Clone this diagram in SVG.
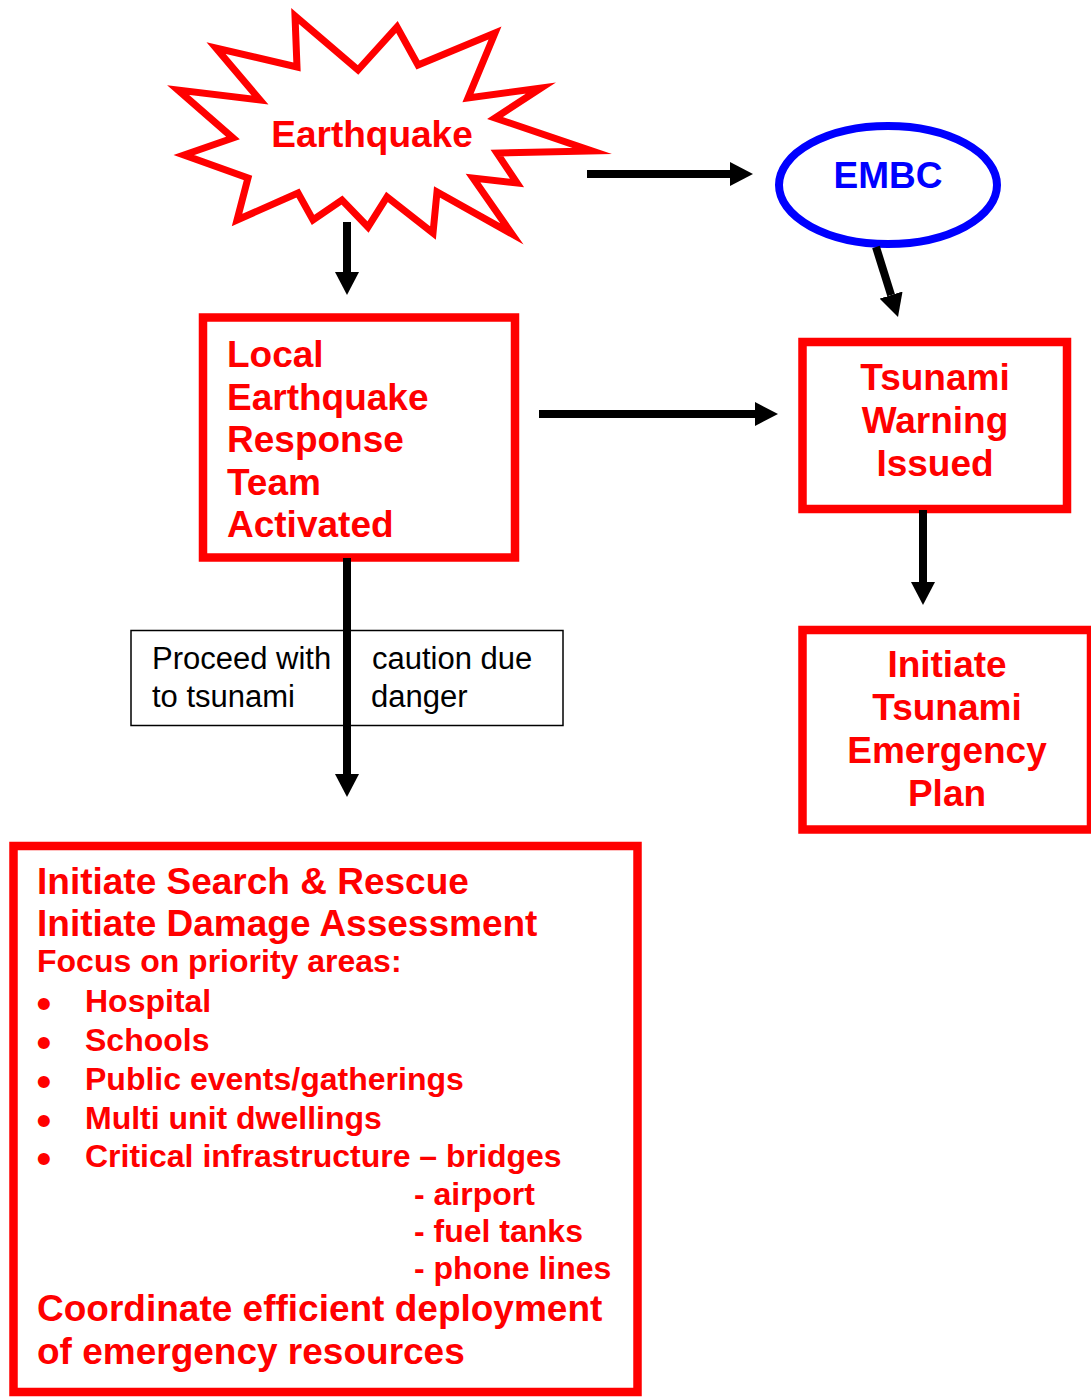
<svg xmlns="http://www.w3.org/2000/svg" width="1091" height="1397" viewBox="0 0 1091 1397">
<defs>
<marker id="ah" viewBox="0 0 23 24" refX="0" refY="12" markerWidth="23" markerHeight="24" markerUnits="userSpaceOnUse" orient="auto">
<path d="M0,0 L23,12 L0,24 Z" fill="#000"/>
</marker>
<style>
.red{fill:#fff;stroke:#ff0000;stroke-width:8.5}
.t{font-family:"Liberation Sans",Arial,sans-serif;font-weight:bold;fill:#ff0000}
.big{font-size:37px}
.mid{font-size:32px}
.c{text-anchor:middle}
.n{font-family:"Liberation Sans",Arial,sans-serif;font-size:31px;fill:#000}
.conn{stroke:#000;stroke-width:8;fill:none;marker-end:url(#ah)}
.bul{font-family:"DejaVu Sans",sans-serif;font-weight:bold;font-size:34px;fill:#ff0000}
</style>
</defs>
<rect width="1091" height="1397" fill="#fff"/>

<g id="earthquake">
<polygon fill="#fff" stroke="#ff0000" stroke-width="7" stroke-linejoin="miter" stroke-miterlimit="20" points="295,16 358,70 397,27 418,65 495,33 468,98 541,88 495,118 592,151 497,153 517,183 473,178 512,234 437,192 433,233 387,197 368,227 342,200 313,220 298,193 237,220 248,178 184,155 233,138 178,90 260,100 216,48 297,67"/>
<text class="t big c" x="372" y="147">Earthquake</text>
</g>

<g id="embc">
<ellipse cx="888" cy="185" rx="109" ry="59" fill="#fff" stroke="#0000ff" stroke-width="8"/>
<text x="888" y="188" font-family="Liberation Sans, Arial, sans-serif" font-weight="bold" font-size="37" fill="#0000ff" text-anchor="middle">EMBC</text>
</g>

<g id="local-team">
<rect class="red" x="203" y="317.5" width="312" height="240"/>
<text class="t big" x="227" y="367">Local</text>
<text class="t big" x="227" y="409.5">Earthquake</text>
<text class="t big" x="227" y="452">Response</text>
<text class="t big" x="227" y="494.5">Team</text>
<text class="t big" x="227" y="537">Activated</text>
</g>

<g id="tsunami-warning">
<rect class="red" x="802.5" y="342" width="264.5" height="167"/>
<text class="t big c" x="935" y="390">Tsunami</text>
<text class="t big c" x="935" y="433">Warning</text>
<text class="t big c" x="935" y="476">Issued</text>
</g>

<g id="tsunami-plan">
<rect class="red" x="802.5" y="630" width="288.5" height="199.5"/>
<text class="t big c" x="947" y="677">Initiate</text>
<text class="t big c" x="947" y="720">Tsunami</text>
<text class="t big c" x="947" y="763">Emergency</text>
<text class="t big c" x="947" y="806">Plan</text>
</g>

<g id="caution-note">
<rect x="131" y="630.5" width="432" height="95" fill="#fff" stroke="#000" stroke-width="1.5"/>
<text class="n" x="152" y="669">Proceed with</text>
<text class="n" x="372" y="669">caution due</text>
<text class="n" x="152" y="707">to tsunami</text>
<text class="n" x="371" y="707">danger</text>
</g>

<g id="response-actions">
<rect class="red" x="13.5" y="846" width="624" height="546"/>
<text class="t big" x="37" y="894">Initiate Search &amp; Rescue</text>
<text class="t big" x="37" y="936">Initiate Damage Assessment</text>
<text class="t mid" x="37" y="972">Focus on priority areas:</text>
<text class="bul" x="33" y="1017">•</text>
<text class="t mid" x="85" y="1012">Hospital</text>
<text class="bul" x="33" y="1056">•</text>
<text class="t mid" x="85" y="1051">Schools</text>
<text class="bul" x="33" y="1095">•</text>
<text class="t mid" x="85" y="1090">Public events/gatherings</text>
<text class="bul" x="33" y="1134">•</text>
<text class="t mid" x="85" y="1129">Multi unit dwellings</text>
<text class="bul" x="33" y="1172">•</text>
<text class="t mid" x="85" y="1167">Critical infrastructure – bridges</text>
<text class="t mid" x="414" y="1205">- airport</text>
<text class="t mid" x="414" y="1242">- fuel tanks</text>
<text class="t mid" x="414" y="1279">- phone lines</text>
<text class="t big" x="37" y="1321">Coordinate efficient deployment</text>
<text class="t big" x="37" y="1364">of emergency resources</text>
</g>

<g id="connectors">
<line class="conn" x1="587" y1="174" x2="730" y2="174"/>
<line class="conn" x1="347" y1="222" x2="347" y2="272"/>
<line class="conn" x1="876" y1="247" x2="891.1" y2="295.1"/>
<line class="conn" x1="539" y1="414" x2="755" y2="414"/>
<line class="conn" x1="923" y1="510" x2="923" y2="582"/>
<line class="conn" x1="347" y1="558" x2="347" y2="774"/>
</g>
</svg>
